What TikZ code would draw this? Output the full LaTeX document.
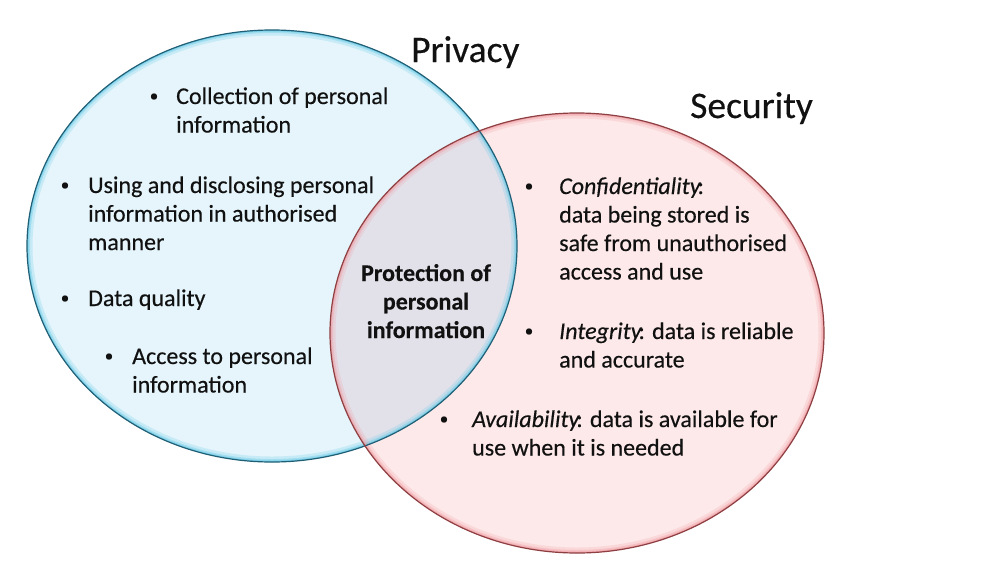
\documentclass[tikz,border=0pt]{standalone}
\usepackage{fontspec}
\setmainfont{Carlito}[FakeBold=0.35]
\definecolor{pfill}{HTML}{E5F5FB}
\definecolor{pglow}{HTML}{5EC8E6}
\definecolor{pline}{HTML}{205F75}
\definecolor{sfill}{HTML}{FDE9E9}
\definecolor{sglow}{HTML}{F09AA0}
\definecolor{sline}{HTML}{8E3F42}
\definecolor{ifill}{HTML}{E2E1EA}
\definecolor{ink}{HTML}{111111}
\newcommand{\blt}{\raisebox{2.7pt}{\fontsize{17}{17}\selectfont\textbullet}}
\begin{document}
\begin{tikzpicture}[x=1pt,y=-1pt,
  txt/.style={anchor=base west, inner sep=0pt, text=ink, font=\fontsize{24}{28.5}\selectfont},
  bul/.style={anchor=base, inner sep=0pt, text=ink},
  ctxt/.style={anchor=base, inner sep=0pt, text=ink, font=\fontsize{24}{28.5}\selectfont\bfseries},
  title/.style={anchor=base west, inner sep=0pt, text=ink, font=\fontsize{37.5}{40}\selectfont},
  glowA/.style={line width=11pt, opacity=0.22},
  glowB/.style={line width=6pt, opacity=0.35},
  glowC/.style={line width=3pt, opacity=0.55}]
\useasboundingbox (0,0) rectangle (984,573);
\fill[white] (0,0) rectangle (984,573);
\def\privpath{(272,246) ellipse [x radius=245, y radius=216]}
\def\secpath{(577,333) ellipse [x radius=247, y radius=220]}
% fills
\fill[pfill] \privpath;
\fill[sfill] \secpath;
\begin{scope}
  \clip \privpath;
  \fill[ifill] \secpath;
\end{scope}
% inner glows
\begin{scope}
  \clip \privpath;
  \draw[pglow, glowA] \privpath;
  \draw[pglow, glowB] \privpath;
  \draw[pglow, glowC] \privpath;
\end{scope}
\begin{scope}
  \clip \secpath;
  \draw[sglow, glowA] \secpath;
  \draw[sglow, glowB] \secpath;
  \draw[sglow, glowC] \secpath;
\end{scope}
% outlines
\draw[pline, line width=1.2pt] \privpath;
\draw[sline, line width=1.2pt] \secpath;
% titles
\node[title] (privacy) at (411,62) {Privacy};
\node[title] (security) at (690,118) {Security};
% privacy items
\node[bul] (b1) at (154,104) {\blt};
\node[txt] (t1) at (176,104) {\begin{tabular}[t]{@{}l@{}}Collection of personal\\information\end{tabular}};
\node[bul] (b2) at (65,193) {\blt};
\node[txt] (t2) at (88,193) {\begin{tabular}[t]{@{}l@{}}Using and disclosing personal\\information in authorised\\manner\end{tabular}};
\node[bul] (b3) at (65,306) {\blt};
\node[txt] (t3) at (88,306) {Data quality};
\node[bul] (b4) at (109,364) {\blt};
\node[txt] (t4) at (132,364) {\begin{tabular}[t]{@{}l@{}}Access to personal\\information\end{tabular}};
% overlap
\node[ctxt] (prot) at (426,281) {\begin{tabular}[t]{@{}c@{}}Protection of\\personal\\information\end{tabular}};
% security items
\node[bul] (b5) at (529,194) {\blt};
\node[txt] (t5) at (559,194) {\begin{tabular}[t]{@{}l@{}}{\itshape Confidentiality}\kern-3pt:\\data being stored is\\safe from unauthorised\\access and use\end{tabular}};
\node[bul] (b6) at (529,339) {\blt};
\node[txt] (t6) at (559,339) {\begin{tabular}[t]{@{}l@{}}{\itshape Integrity}\kern-3pt: data is reliable\\and accurate\end{tabular}};
\node[bul] (b7) at (444,427) {\blt};
\node[txt] (t7) at (472,427) {\begin{tabular}[t]{@{}l@{}}{\itshape Availability}\kern-3pt: data is available for\\use when it is needed\end{tabular}};
\end{tikzpicture}
\end{document}
